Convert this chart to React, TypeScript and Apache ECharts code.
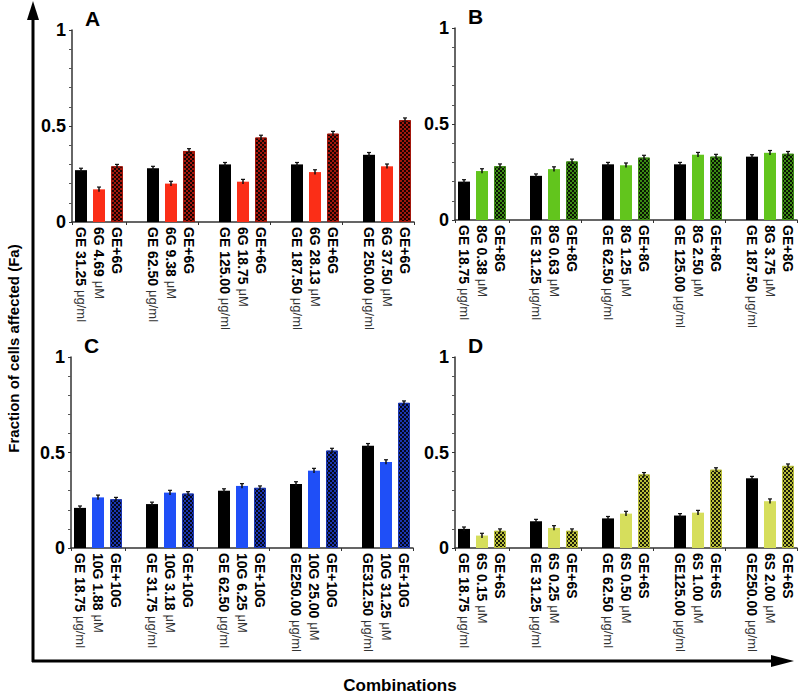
import React, { useEffect, useRef } from "react";
import * as echarts from "echarts";

// ---------- DATA ----------
// Panel A (6G)
const aGeLabels = ["GE 31.25 {u|μg/ml}", "GE 62.50 {u|μg/ml}", "GE 125.00 {u|μg/ml}", "GE 187.50 {u|μg/ml}", "GE 250.00 {u|μg/ml}"];
const aDrugLabels = ["6G 4.69 {u|μM}", "6G 9.38 {u|μM}", "6G 18.75 {u|μM}", "6G 28.13 {u|μM}", "6G 37.50 {u|μM}"];
const aComboLabels = ["GE+6G", "GE+6G", "GE+6G", "GE+6G", "GE+6G"];
const aGe = [0.27, 0.28, 0.30, 0.30, 0.35];
const aDrug = [0.17, 0.20, 0.21, 0.26, 0.29];
const aCombo = [0.29, 0.37, 0.44, 0.46, 0.53];
const aGeErr = [0.01, 0.01, 0.01, 0.01, 0.012];
const aDrugErr = [0.012, 0.012, 0.012, 0.012, 0.012];
const aComboErr = [0.01, 0.012, 0.012, 0.012, 0.012];

// Panel B (8G)
const bGeLabels = ["GE 18.75 {u|μg/ml}", "GE 31.25 {u|μg/ml}", "GE 62.50 {u|μg/ml}", "GE 125.00 {u|μg/ml}", "GE 187.50 {u|μg/ml}"];
const bDrugLabels = ["8G 0.38 {u|μM}", "8G 0.63 {u|μM}", "8G 1.25 {u|μM}", "8G 2.50 {u|μM}", "8G 3.75 {u|μM}"];
const bComboLabels = ["GE+8G", "GE+8G", "GE+8G", "GE+8G", "GE+8G"];
const bGe = [0.20, 0.23, 0.29, 0.29, 0.33];
const bDrug = [0.255, 0.265, 0.285, 0.34, 0.35];
const bCombo = [0.28, 0.305, 0.325, 0.33, 0.345];
const bGeErr = [0.01, 0.01, 0.01, 0.01, 0.01];
const bDrugErr = [0.012, 0.012, 0.012, 0.012, 0.012];
const bComboErr = [0.012, 0.012, 0.012, 0.012, 0.012];

// Panel C (10G)
const cGeLabels = ["GE 18.75 {u|μg/ml}", "GE 31.75 {u|μg/ml}", "GE 62.50 {u|μg/ml}", "GE250.00 {u|μg/ml}", "GE312.50 {u|μg/ml}"];
const cDrugLabels = ["10G 1.88 {u|μM}", "10G 3.18 {u|μM}", "10G 6.25 {u|μM}", "10G 25.00 {u|μM}", "10G 31.25 {u|μM}"];
const cComboLabels = ["GE+10G", "GE+10G", "GE+10G", "GE+10G", "GE+10G"];
const cGe = [0.21, 0.23, 0.30, 0.335, 0.535];
const cDrug = [0.265, 0.29, 0.325, 0.405, 0.45];
const cCombo = [0.255, 0.285, 0.315, 0.51, 0.76];
const cGeErr = [0.01, 0.01, 0.01, 0.012, 0.012];
const cDrugErr = [0.012, 0.012, 0.012, 0.012, 0.012];
const cComboErr = [0.01, 0.01, 0.01, 0.012, 0.01];

// Panel D (6S)
const dGeLabels = ["GE 18.75 {u|μg/ml}", "GE 31.25 {u|μg/ml}", "GE 62.50 {u|μg/ml}", "GE125.00 {u|μg/ml}", "GE250.00 {u|μg/ml}"];
const dDrugLabels = ["6S 0.15 {u|μM}", "6S 0.25 {u|μM}", "6S 0.50 {u|μM}", "6S 1.00 {u|μM}", "6S 2.00 {u|μM}"];
const dComboLabels = ["GE+6S", "GE+6S", "GE+6S", "GE+6S", "GE+6S"];
const dGe = [0.10, 0.14, 0.155, 0.17, 0.365];
const dDrug = [0.065, 0.105, 0.18, 0.185, 0.245];
const dCombo = [0.09, 0.09, 0.385, 0.41, 0.43];
const dGeErr = [0.01, 0.01, 0.01, 0.01, 0.01];
const dDrugErr = [0.012, 0.012, 0.012, 0.012, 0.012];
const dComboErr = [0.01, 0.01, 0.01, 0.01, 0.01];

const yTicks = [0, 0.5, 1];

// ---------- STYLE ----------
const FONT = "Arial, 'Liberation Sans', sans-serif";

type Panel = {
  letter: string;
  geLabels: string[]; drugLabels: string[]; comboLabels: string[];
  ge: number[]; drug: number[]; combo: number[];
  geErr: number[]; drugErr: number[]; comboErr: number[];
  drugColor: string; comboColor: string;
  left: number; top: number; height: number;
};

const panels: Panel[] = [
  { letter: "A", geLabels: aGeLabels, drugLabels: aDrugLabels, comboLabels: aComboLabels, ge: aGe, drug: aDrug, combo: aCombo, geErr: aGeErr, drugErr: aDrugErr, comboErr: aComboErr, drugColor: "#fb2e17", comboColor: "#a3170c", left: 72, top: 30, height: 192 },
  { letter: "B", geLabels: bGeLabels, drugLabels: bDrugLabels, comboLabels: bComboLabels, ge: bGe, drug: bDrug, combo: bCombo, geErr: bGeErr, drugErr: bDrugErr, comboErr: bComboErr, drugColor: "#62c51d", comboColor: "#3d8a14", left: 455, top: 28, height: 192 },
  { letter: "C", geLabels: cGeLabels, drugLabels: cDrugLabels, comboLabels: cComboLabels, ge: cGe, drug: cDrug, combo: cCombo, geErr: cGeErr, drugErr: cDrugErr, comboErr: cComboErr, drugColor: "#1f4ff7", comboColor: "#1b36b0", left: 71, top: 357, height: 191 },
  { letter: "D", geLabels: dGeLabels, drugLabels: dDrugLabels, comboLabels: dComboLabels, ge: dGe, drug: dDrug, combo: dCombo, geErr: dGeErr, drugErr: dDrugErr, comboErr: dComboErr, drugColor: "#d6de5c", comboColor: "#b8bd3a", left: 455, top: 357, height: 191 },
];

const SLOTS = 4; // 3 bars + 1 gap per group
const NSLOT = 5 * SLOTS - 1;
const SLOTW = 18;

function buildOption() {
  const grid: any[] = [];
  const xAxis: any[] = [];
  const yAxis: any[] = [];
  const series: any[] = [];
  const graphic: any[] = [];

  panels.forEach((p, i) => {
    grid.push({ left: p.left, top: p.top, width: NSLOT * SLOTW, height: p.height, containLabel: false });
    const cats: string[] = [];
    for (let g = 0; g < 5; g++) {
      cats.push(p.geLabels[g], p.drugLabels[g], p.comboLabels[g]);
      if (g < 4) cats.push("");
    }
    xAxis.push({
      type: "category", gridIndex: i, data: cats,
      axisLine: { lineStyle: { color: "#333", width: 1.5 } },
      axisTick: { show: true, length: 3, interval: (idx: number) => idx % SLOTS === 3 || idx === 0, lineStyle: { color: "#333" } },
      axisLabel: {
        interval: 0, rotate: -90, margin: 5, color: "#000", fontFamily: FONT, fontWeight: "bold", fontSize: 14,
        rich: { u: { fontFamily: FONT, fontSize: 13, fontWeight: "normal", color: "#333" } },
      },
    });
    yAxis.push({
      type: "value", gridIndex: i, min: 0, max: 1, interval: 0.5,
      axisLine: { show: true, lineStyle: { color: "#333", width: 1.5 } },
      axisTick: { show: true, length: 3, lineStyle: { color: "#333" } },
      minorTick: { show: true, splitNumber: 5, length: 3, lineStyle: { color: "#555" } },
      splitLine: { show: false },
      axisLabel: {
        margin: 6, color: "#000", fontFamily: FONT, fontWeight: "bold", fontSize: 18,
        customValues: yTicks,
        formatter: (v: number) => (v === 0 ? "0" : v === 1 ? "1" : "0.5"),
      },
    });

    const place = (vals: number[], off: number) => {
      const arr: any[] = new Array(NSLOT).fill("-");
      vals.forEach((v, g) => { arr[g * SLOTS + off] = v; });
      return arr;
    };
    const common = { type: "bar", xAxisIndex: i, yAxisIndex: i, barWidth: 12, barGap: "-100%" };
    series.push({ ...common, name: "GE", data: place(p.ge, 0), itemStyle: { color: "#000" } });
    series.push({ ...common, name: "drug", data: place(p.drug, 1), itemStyle: { color: p.drugColor } });
    series.push({
      ...common, name: "combo", data: place(p.combo, 2),
      itemStyle: {
        color: p.comboColor,
        borderColor: p.comboColor, borderWidth: 1,
        decal: { symbol: "rect", symbolSize: 1, dashArrayX: [[2, 2], [0, 2, 2, 0]], dashArrayY: [2, 0], color: "rgba(0,0,0,0.85)", rotation: 0 },
      },
    });
    const errData: any[] = [];
    for (let g = 0; g < 5; g++) {
      errData.push([g * SLOTS, p.ge[g], p.geErr[g]]);
      errData.push([g * SLOTS + 1, p.drug[g], p.drugErr[g]]);
      errData.push([g * SLOTS + 2, p.combo[g], p.comboErr[g]]);
    }
    series.push({
      type: "custom", xAxisIndex: i, yAxisIndex: i, z: 5, data: errData,
      renderItem: (params: any, api: any) => {
        const x = api.value(0), y = api.value(1), e = api.value(2);
        const lo = api.coord([x, y - e]);
        const hi = api.coord([x, y + e]);
        return {
          type: "group",
          children: [
            { type: "line", shape: { x1: lo[0], y1: lo[1], x2: hi[0], y2: hi[1] }, style: { stroke: "#111", lineWidth: 1.5 } },
            { type: "line", shape: { x1: hi[0] - 2, y1: hi[1], x2: hi[0] + 2, y2: hi[1] }, style: { stroke: "#111", lineWidth: 1.2 } },
          ],
        };
      },
    });

    graphic.push({
      type: "text", left: p.left + 13, top: p.top - 22,
      style: { text: p.letter, fontFamily: FONT, fontWeight: "bold", fontSize: 21, fill: "#000" },
    });
  });

  // big axes arrows
  graphic.push({ type: "line", shape: { x1: 33, y1: 662, x2: 33, y2: 16 }, style: { stroke: "#000", lineWidth: 3 } });
  graphic.push({ type: "polygon", shape: { points: [[33, 1], [27, 20], [39, 20]] }, style: { fill: "#000" } });
  graphic.push({ type: "line", shape: { x1: 32, y1: 661, x2: 775, y2: 661 }, style: { stroke: "#000", lineWidth: 3 } });
  graphic.push({ type: "polygon", shape: { points: [[794, 661], [771, 655], [771, 667]] }, style: { fill: "#000" } });
  graphic.push({
    type: "text", left: 6, top: "middle",
    style: { text: "Fraction of cells affected (Fa)", fontFamily: FONT, fontWeight: "bold", fontSize: 15, fill: "#000" },
    rotation: Math.PI / 2,
  });
  graphic.push({
    type: "text", x: 400, y: 685,
    style: { text: "Combinations", fontFamily: FONT, fontWeight: "bold", fontSize: 17, fill: "#000", align: "center", verticalAlign: "middle" },
  });

  return { animation: false, backgroundColor: "#fff", grid, xAxis, yAxis, series, graphic };
}

export default function App() {
  const ref = useRef<HTMLDivElement>(null);
  useEffect(() => {
    if (!ref.current) return;
    const chart = echarts.init(ref.current, undefined, { renderer: "svg" });
    chart.setOption(buildOption() as any);
    return () => chart.dispose();
  }, []);
  return <div ref={ref} style={{ position: "fixed", left: 0, top: 0, width: 800, height: 697, background: "#fff" }} />;
}
